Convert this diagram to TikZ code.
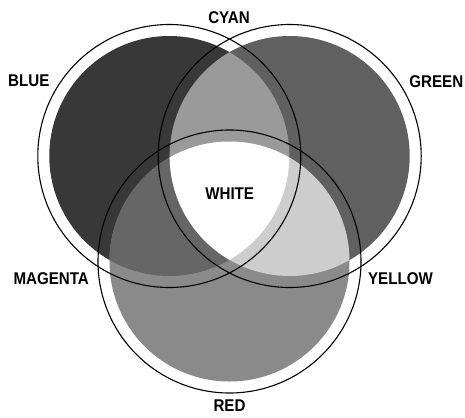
\documentclass[tikz,border=0pt]{standalone}
\usepackage{fontspec}
\setmainfont{Liberation Sans}[FakeStretch=0.89]
\usetikzlibrary{positioning}

\definecolor{blueonly}{HTML}{383838}
\definecolor{greenonly}{HTML}{606060}
\definecolor{redonly}{HTML}{8A8A8A}
\definecolor{cyanmix}{HTML}{9A9A9A}
\definecolor{magentamix}{HTML}{666666}
\definecolor{yellowmix}{HTML}{CDCDCD}

\begin{document}
\begin{tikzpicture}[
    x=1pt, y=-1pt,
    beam/.style={draw=black, line width=1.1pt},
    colname/.style={font=\bfseries\fontsize{17}{17}\selectfont, inner sep=0pt}
]

% Frame
\useasboundingbox (0,0) rectangle (465,417);

% Centres of the three lights
\coordinate (blue) at (169.3,156);
\coordinate (green) at (289.7,156);
\coordinate (red) at (229.5,261.5);

% Single lights
\fill[blueonly] (blue) circle[radius=120];
\fill[greenonly] (green) circle[radius=120];
\fill[redonly] (red) circle[radius=120];

% Two lights mixed
\begin{scope}
    \clip (blue) circle[radius=120];
    \fill[cyanmix] (green) circle[radius=120];
    \fill[magentamix] (red) circle[radius=120];
\end{scope}
\begin{scope}
    \clip (green) circle[radius=120];
    \fill[yellowmix] (red) circle[radius=120];
\end{scope}

% All three lights
\begin{scope}
    \clip (blue) circle[radius=120];
    \clip (green) circle[radius=120];
    \fill[white] (red) circle[radius=120];
\end{scope}

% Outlines
\draw[beam] (blue) circle[radius=131.5];
\draw[beam] (green) circle[radius=131.5];
\draw[beam] (red) circle[radius=131.5];

% Labels
\node[colname] (cyanlbl) at (229,17.5) {CYAN};
\node[colname] (bluelbl) at (28.8,81.2) {BLUE};
\node[colname] (greenlbl) at (436.3,81.2) {GREEN};
\node[colname] (whitelbl) at (229.7,193.8) {WHITE};
\node[colname] (magentalbl) at (51.2,278.8) {MAGENTA};
\node[colname] (yellowlbl) at (400.5,278.8) {YELLOW};
\node[colname] (redlbl) at (229.5,405.8) {RED};

\end{tikzpicture}
\end{document}
